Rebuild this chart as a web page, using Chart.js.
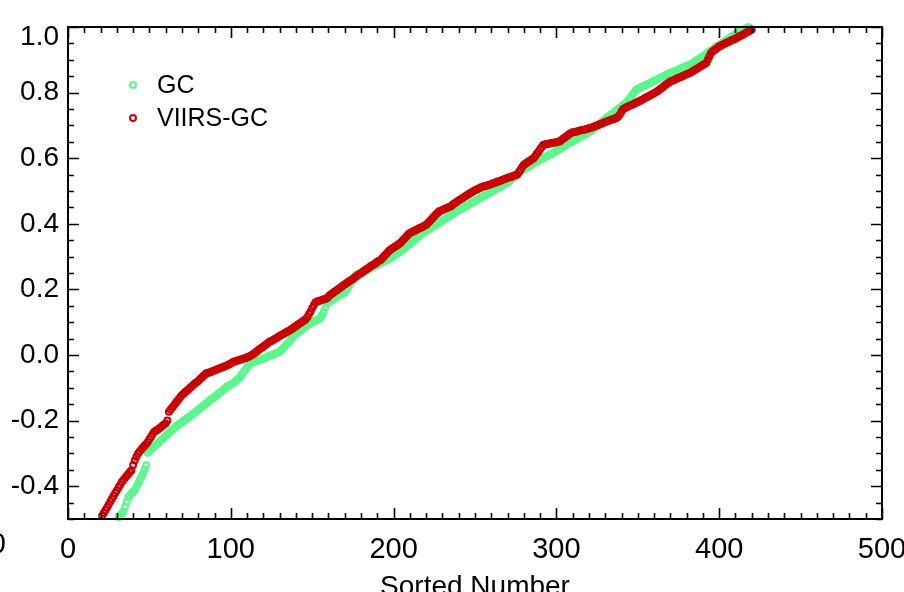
<!DOCTYPE html>
<html>
<head>
<meta charset="utf-8">
<script src="https://cdn.jsdelivr.net/npm/chart.js@4/dist/chart.umd.min.js"></script>
<style>
html,body{margin:0;padding:0;background:#fff;}
#wrap{width:904px;height:592px;}
</style>
</head>
<body>
<div id="wrap"><canvas id="c" width="904" height="592"></canvas></div>
<script>
// ---- data (sorted values) ----
const seriesNames = ["GC", "VIIRS-GC"];
const xTickValues = [0, 100, 200, 300, 400, 500];
const yTickValues = [-0.4, -0.2, 0.0, 0.2, 0.4, 0.6, 0.8, 1.0];
const xTitle = "Sorted Number";

const gcFirstIndex = 31;
const gcValues = [
-0.494,-0.489,-0.484,-0.478,-0.463,-0.448,-0.433,-0.428,-0.422,-0.417,
-0.412,-0.402,-0.392,-0.382,-0.371,-0.361,-0.349,-0.336,-0.298,-0.292,
-0.288,-0.283,-0.279,-0.274,-0.270,-0.265,-0.260,-0.256,-0.251,-0.246,
-0.242,-0.237,-0.233,-0.228,-0.224,-0.219,-0.215,-0.212,-0.208,-0.205,
-0.201,-0.197,-0.194,-0.190,-0.187,-0.183,-0.179,-0.175,-0.171,-0.167,
-0.163,-0.159,-0.155,-0.151,-0.147,-0.143,-0.139,-0.135,-0.131,-0.128,
-0.124,-0.120,-0.116,-0.112,-0.108,-0.103,-0.099,-0.095,-0.093,-0.090,
-0.087,-0.084,-0.080,-0.075,-0.071,-0.066,-0.058,-0.050,-0.044,-0.037,
-0.031,-0.025,-0.023,-0.022,-0.020,-0.018,-0.017,-0.015,-0.013,-0.011,
-0.009,-0.006,-0.004,-0.002,0.000,0.002,0.004,0.006,0.008,0.010,
0.015,0.020,0.026,0.031,0.036,0.041,0.049,0.056,0.060,0.064,
0.068,0.072,0.076,0.079,0.083,0.087,0.091,0.095,0.097,0.100,
0.102,0.105,0.107,0.110,0.112,0.122,0.132,0.145,0.158,0.161,
0.164,0.167,0.170,0.174,0.177,0.180,0.183,0.185,0.188,0.190,
0.198,0.206,0.214,0.222,0.229,0.237,0.245,0.246,0.247,0.248,
0.251,0.254,0.257,0.259,0.262,0.265,0.268,0.270,0.273,0.275,
0.278,0.280,0.283,0.285,0.288,0.290,0.293,0.296,0.299,0.302,
0.306,0.309,0.312,0.315,0.319,0.323,0.327,0.331,0.335,0.339,
0.343,0.348,0.352,0.356,0.360,0.364,0.368,0.372,0.375,0.378,
0.381,0.385,0.388,0.391,0.394,0.397,0.400,0.403,0.406,0.410,
0.413,0.416,0.419,0.422,0.425,0.428,0.432,0.435,0.438,0.441,
0.444,0.447,0.449,0.452,0.455,0.458,0.461,0.464,0.467,0.469,
0.472,0.475,0.478,0.481,0.484,0.486,0.489,0.492,0.495,0.498,
0.500,0.503,0.506,0.509,0.511,0.514,0.517,0.520,0.522,0.525,
0.529,0.534,0.538,0.543,0.547,0.551,0.556,0.560,0.563,0.566,
0.569,0.572,0.575,0.578,0.582,0.585,0.588,0.590,0.593,0.595,
0.598,0.600,0.603,0.606,0.608,0.611,0.613,0.616,0.619,0.622,
0.625,0.628,0.632,0.635,0.638,0.641,0.644,0.646,0.649,0.652,
0.655,0.657,0.660,0.663,0.666,0.668,0.671,0.674,0.677,0.679,
0.682,0.686,0.690,0.694,0.698,0.703,0.707,0.711,0.715,0.719,
0.723,0.727,0.731,0.735,0.738,0.742,0.746,0.750,0.754,0.758,
0.762,0.765,0.769,0.776,0.782,0.789,0.796,0.802,0.809,0.811,
0.814,0.816,0.819,0.821,0.823,0.826,0.828,0.830,0.833,0.835,
0.838,0.840,0.843,0.845,0.848,0.850,0.853,0.855,0.858,0.860,
0.862,0.864,0.866,0.868,0.870,0.872,0.875,0.877,0.879,0.881,
0.883,0.885,0.888,0.891,0.895,0.898,0.901,0.904,0.908,0.911,
0.914,0.918,0.921,0.925,0.928,0.931,0.935,0.938,0.942,0.945,
0.948,0.952,0.955,0.958,0.962,0.965,0.969,0.972,0.975,0.979,
0.982,0.985,0.987,0.990,0.992,0.995,0.997,1.000
];

const viirsGcFirstIndex = 21;
const viirsGcValues = [
-0.490,-0.482,-0.473,-0.465,-0.456,-0.447,-0.438,-0.430,-0.421,-0.413,
-0.404,-0.396,-0.387,-0.381,-0.375,-0.369,-0.363,-0.357,-0.351,-0.335,
-0.322,-0.310,-0.300,-0.294,-0.288,-0.282,-0.277,-0.271,-0.265,-0.257,
-0.249,-0.241,-0.234,-0.231,-0.228,-0.224,-0.220,-0.216,-0.212,-0.209,
-0.200,-0.173,-0.166,-0.160,-0.154,-0.147,-0.141,-0.135,-0.128,-0.122,
-0.118,-0.113,-0.109,-0.105,-0.100,-0.096,-0.091,-0.087,-0.083,-0.079,
-0.074,-0.069,-0.065,-0.060,-0.056,-0.054,-0.053,-0.051,-0.049,-0.047,
-0.045,-0.043,-0.041,-0.039,-0.037,-0.035,-0.033,-0.031,-0.028,-0.026,
-0.023,-0.020,-0.019,-0.017,-0.016,-0.014,-0.013,-0.011,-0.010,-0.007,
-0.005,-0.002,0.000,0.004,0.007,0.011,0.015,0.019,0.022,0.026,
0.030,0.033,0.037,0.041,0.043,0.046,0.049,0.052,0.055,0.058,
0.061,0.063,0.066,0.069,0.072,0.075,0.078,0.081,0.085,0.088,
0.092,0.095,0.098,0.102,0.105,0.109,0.115,0.124,0.133,0.143,
0.152,0.160,0.163,0.165,0.166,0.168,0.170,0.171,0.173,0.178,
0.183,0.187,0.190,0.194,0.197,0.201,0.204,0.208,0.212,0.215,
0.219,0.222,0.226,0.229,0.232,0.236,0.239,0.243,0.247,0.250,
0.254,0.257,0.261,0.264,0.267,0.271,0.274,0.277,0.280,0.284,
0.287,0.290,0.295,0.300,0.306,0.311,0.316,0.321,0.324,0.328,
0.331,0.334,0.338,0.341,0.346,0.351,0.357,0.362,0.367,0.372,
0.374,0.377,0.379,0.382,0.384,0.387,0.389,0.392,0.394,0.397,
0.402,0.407,0.412,0.418,0.423,0.428,0.433,0.438,0.440,0.442,
0.444,0.447,0.449,0.451,0.453,0.457,0.461,0.464,0.468,0.471,
0.474,0.477,0.480,0.484,0.487,0.490,0.493,0.496,0.499,0.502,
0.504,0.507,0.509,0.512,0.514,0.515,0.516,0.518,0.519,0.521,
0.523,0.525,0.527,0.529,0.530,0.532,0.534,0.536,0.538,0.540,
0.542,0.543,0.545,0.547,0.548,0.550,0.558,0.565,0.573,0.580,
0.583,0.587,0.590,0.593,0.597,0.600,0.607,0.614,0.620,0.627,
0.634,0.641,0.642,0.643,0.644,0.645,0.646,0.647,0.648,0.649,
0.650,0.651,0.655,0.659,0.662,0.666,0.670,0.674,0.677,0.679,
0.680,0.681,0.682,0.684,0.685,0.686,0.687,0.688,0.690,0.691,
0.692,0.694,0.696,0.698,0.700,0.702,0.704,0.706,0.708,0.710,
0.712,0.714,0.716,0.718,0.719,0.721,0.723,0.727,0.733,0.742,
0.750,0.752,0.755,0.757,0.760,0.762,0.764,0.767,0.769,0.772,
0.774,0.777,0.779,0.782,0.785,0.787,0.790,0.793,0.796,0.798,
0.801,0.804,0.808,0.812,0.815,0.819,0.823,0.827,0.830,0.834,
0.836,0.838,0.840,0.843,0.845,0.847,0.849,0.851,0.854,0.856,
0.858,0.860,0.863,0.866,0.869,0.872,0.875,0.878,0.881,0.884,
0.887,0.890,0.900,0.911,0.921,0.925,0.929,0.933,0.937,0.941,
0.943,0.946,0.948,0.951,0.953,0.955,0.958,0.960,0.962,0.965,
0.967,0.970,0.973,0.975,0.978,0.981,0.984,0.986,0.989,0.992
];

// ---- styles ----
const GREEN = "#57f98a";
const RED = "#cc0000";
const FONT = "'Liberation Sans', Arial, Helvetica, sans-serif";

function toPoints(first, vals) {
  return vals.map((v, i) => ({ x: first + i, y: v }));
}

const frameTicks = {
  id: "frameTicks",
  afterDraw(chart) {
    const ctx = chart.ctx;
    const { left, right, top, bottom } = chart.chartArea;
    const xs = chart.scales.x, ys = chart.scales.y;
    ctx.save();
    ctx.strokeStyle = "#000";
    ctx.lineWidth = 2;
    ctx.strokeRect(left, top, right - left, bottom - top);
    ctx.lineWidth = 1.6;
    ctx.beginPath();
    for (let v = 0; v <= 500; v += 10) {
      const px = Math.round(xs.getPixelForValue(v)) + 0.5;
      const len = (v % 100 === 0) ? 11 : 6;
      ctx.moveTo(px, bottom); ctx.lineTo(px, bottom - len);
      ctx.moveTo(px, top); ctx.lineTo(px, top + len);
    }
    for (let k = -10; k <= 20; k++) {
      const v = k * 0.05;
      const py = Math.round(ys.getPixelForValue(v)) + 0.5;
      const len = (k % 4 === 0) ? 11 : 6;
      ctx.moveTo(left, py); ctx.lineTo(left + len, py);
      ctx.moveTo(right, py); ctx.lineTo(right - len, py);
    }
    ctx.stroke();

    // top y label (drawn shifted down as in the reference) and the clipped "0"
    ctx.fillStyle = "#000";
    ctx.font = "28px " + FONT;
    ctx.textAlign = "right";
    ctx.textBaseline = "middle";
    ctx.fillText("1.0", left - 9, ys.getPixelForValue(1.0) + 10);
    ctx.font = "29px " + FONT;
    ctx.fillText("0", 6, 545);

    // legend
    const items = [
      { label: seriesNames[0], color: GREEN, y: 85 },
      { label: seriesNames[1], color: RED, y: 118 }
    ];
    ctx.font = "25px " + FONT;
    ctx.textAlign = "left";
    items.forEach(it => {
      ctx.beginPath();
      ctx.strokeStyle = it.color;
      ctx.lineWidth = 2;
      ctx.arc(133, it.y, 3, 0, Math.PI * 2);
      ctx.stroke();
      ctx.fillStyle = "#000";
      ctx.fillText(it.label, 157, it.y + 1);
    });
    ctx.restore();
  }
};

new Chart(document.getElementById("c"), {
  type: "scatter",
  data: {
    datasets: [
      {
        label: seriesNames[1],
        data: toPoints(viirsGcFirstIndex, viirsGcValues),
        borderColor: RED,
        backgroundColor: "rgba(0,0,0,0)",
        pointRadius: 3,
        pointBorderWidth: 2,
        pointHoverRadius: 3,
        clip: false,
        order: 1
      },
      {
        label: seriesNames[0],
        data: toPoints(gcFirstIndex, gcValues),
        borderColor: GREEN,
        backgroundColor: "rgba(0,0,0,0)",
        pointRadius: 3,
        pointBorderWidth: 2,
        pointHoverRadius: 3,
        clip: false,
        order: 2
      }
    ]
  },
  options: {
    responsive: false,
    animation: false,
    events: [],
    layout: { padding: { top: 27, right: 22, left: 0, bottom: 0 } },
    plugins: { legend: { display: false }, tooltip: { enabled: false } },
    scales: {
      x: {
        type: "linear",
        min: 0, max: 500,
        afterBuildTicks(s) { s.ticks = xTickValues.map(v => ({ value: v })); },
        afterFit(s) { s.height = 73; s.paddingLeft = 0; s.paddingRight = 0; },
        grid: { display: false, drawTicks: false },
        border: { display: false },
        ticks: {
          color: "#000",
          font: { family: FONT, size: 29 },
          padding: 14,
          maxRotation: 0,
          autoSkip: false,
          callback: v => String(v)
        },
        title: {
          display: true,
          text: xTitle,
          color: "#000",
          font: { family: FONT, size: 28, lineHeight: 1 },
          padding: { top: 0, bottom: -9 }
        }
      },
      y: {
        type: "linear",
        min: -0.5, max: 1.0,
        afterBuildTicks(s) { s.ticks = yTickValues.map(v => ({ value: v })); },
        afterFit(s) { s.width = 68; s.paddingTop = 0; s.paddingBottom = 0; },
        grid: { display: false, drawTicks: false },
        border: { display: false },
        ticks: {
          color: "#000",
          font: { family: FONT, size: 28 },
          padding: 9,
          autoSkip: false,
          callback: v => (Math.abs(v - 1.0) < 1e-9 ? "" : Number(v).toFixed(1))
        }
      }
    }
  },
  plugins: [frameTicks]
});
</script>
</body>
</html>
